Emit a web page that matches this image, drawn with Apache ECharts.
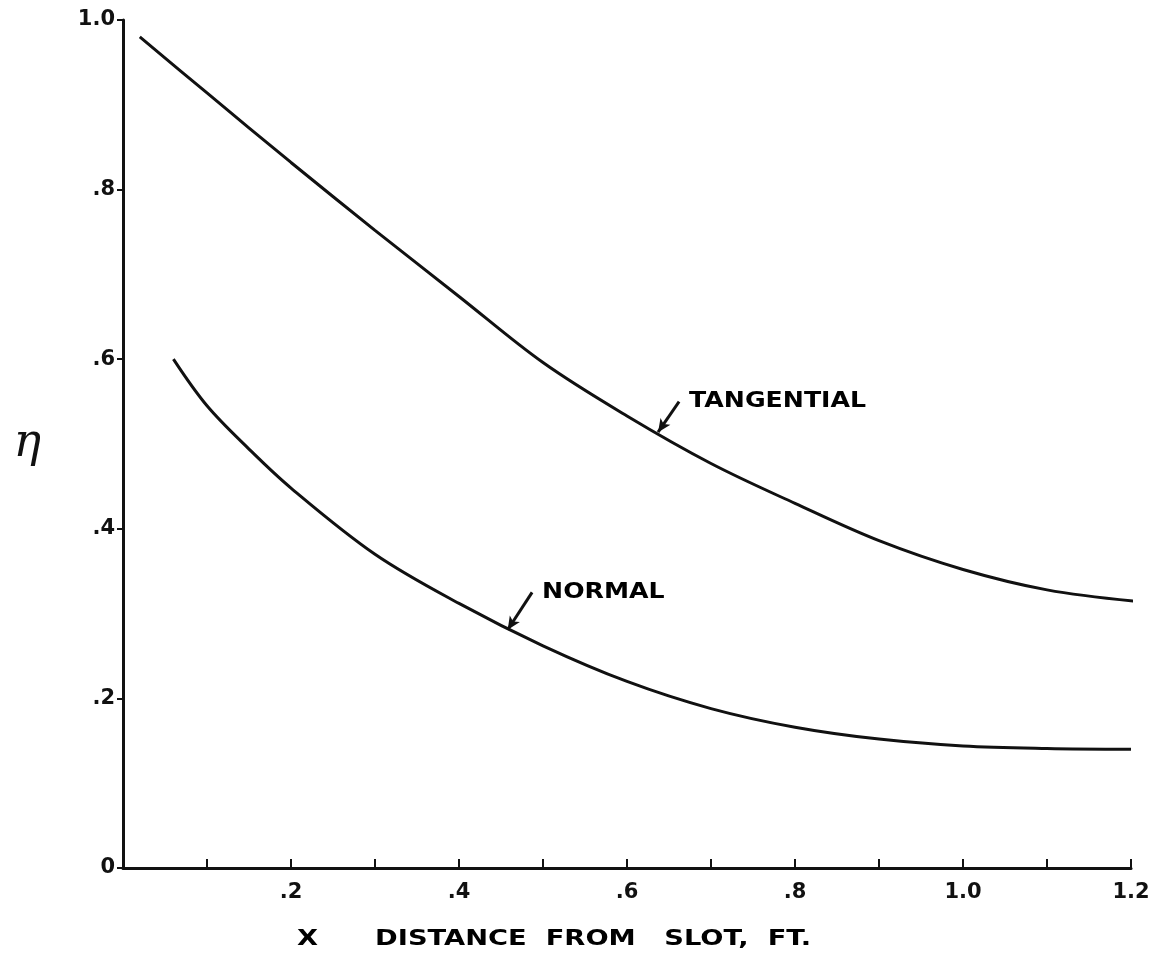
<!DOCTYPE html>
<html>
<head>
<meta charset="utf-8">
<script src="https://cdn.jsdelivr.net/npm/echarts@6/dist/echarts.min.js"></script>
<style>
html,body{margin:0;padding:0;background:#fff;}
#chart{width:1156px;height:962px;}
</style>
</head>
<body>
<div id="chart"></div>
<script>
// Tangential slot curve
const tangX = [0.02, 0.1, 0.2, 0.3, 0.4, 0.5, 0.6, 0.7, 0.8, 0.9, 1.0, 1.1, 1.21];
const tangY = [0.98, 0.914, 0.832, 0.752, 0.674, 0.596, 0.533, 0.477, 0.430, 0.386, 0.352, 0.328, 0.314];
// Normal slot curve
const normX = [0.06, 0.1, 0.15, 0.2, 0.3, 0.4, 0.5, 0.6, 0.7, 0.8, 0.9, 1.0, 1.1, 1.2];
const normY = [0.60, 0.545, 0.494, 0.448, 0.370, 0.312, 0.262, 0.220, 0.188, 0.166, 0.152, 0.144, 0.141, 0.140];
// Tick labels
const xTickLabels = {"0.2": ".2", "0.4": ".4", "0.6": ".6", "0.8": ".8", "1.0": "1.0", "1.2": "1.2"};
const yTickLabels = {"0.0": "0", "0.2": ".2", "0.4": ".4", "0.6": ".6", "0.8": ".8", "1.0": "1.0"};
// Annotations: label text, arrow start [x, y], arrow tip [x, y]
const annoNames = ["TANGENTIAL", "NORMAL"];
const annoStart = [[0.662, 0.550], [0.487, 0.325]];
const annoTip = [[0.637, 0.514], [0.458, 0.281]];
const xTitle = "X      DISTANCE  FROM   SLOT,  FT.";
const yTitle = "η";

const ink = '#111';
const font = 'DejaVu Sans';
const chart = echarts.init(document.getElementById('chart'), null, {renderer: 'canvas'});

const zip = (xs, ys) => xs.map((x, i) => [x, ys[i]]);

const arrowLine = i => ({
  silent: true, symbol: ['none', 'arrow'], symbolSize: [9, 13],
  lineStyle: {color: ink, width: 3, type: 'solid'},
  itemStyle: {color: ink},
  label: {show: false},
  data: [[{coord: annoStart[i]}, {coord: annoTip[i]}]]
});

chart.setOption({
  backgroundColor: '#fff',
  animation: false,
  grid: {left: 123, right: 25, top: 20, bottom: 94, containLabel: false},
  xAxis: {
    type: 'value', min: 0, max: 1.2, interval: 0.1,
    axisLine: {show: true, onZero: false, lineStyle: {color: ink, width: 3}},
    axisTick: {show: true, inside: true, length: 9, lineStyle: {color: ink, width: 2}},
    splitLine: {show: false},
    axisLabel: {
      margin: 14,
      fontFamily: font, fontWeight: 'bold', fontSize: 21, color: ink,
      formatter: v => xTickLabels[v.toFixed(1)] || ''
    }
  },
  yAxis: {
    type: 'value', min: 0, max: 1.0, interval: 0.2,
    name: yTitle, nameLocation: 'middle', nameRotate: 0, nameGap: 82,
    nameTextStyle: {fontFamily: 'DejaVu Serif', fontStyle: 'italic', fontSize: 46, color: ink},
    axisLine: {show: true, onZero: false, lineStyle: {color: ink, width: 3}},
    axisTick: {show: true, inside: false, length: 6, lineStyle: {color: ink, width: 2}},
    splitLine: {show: false},
    axisLabel: {
      margin: 8,
      fontFamily: font, fontWeight: 'bold', fontSize: 21, color: ink,
      formatter: v => yTickLabels[v.toFixed(1)] || ''
    }
  },
  series: [
    {
      name: 'TANGENTIAL', type: 'line', smooth: 0.35, showSymbol: false,
      data: zip(tangX, tangY),
      lineStyle: {color: ink, width: 3},
      markLine: arrowLine(0)
    },
    {
      name: 'NORMAL', type: 'line', smooth: 0.35, showSymbol: false,
      data: zip(normX, normY),
      lineStyle: {color: ink, width: 3},
      markLine: arrowLine(1)
    }
  ]
});

// Text labels placed through the chart's own coordinate conversion
const texts = annoNames.map((n, i) => {
  const p = chart.convertToPixel({gridIndex: 0}, annoStart[i]);
  return {
    type: 'text', x: p[0] + 10, y: p[1], scaleX: 1.2, silent: true,
    style: {text: n, fill: '#000', fontFamily: font, fontWeight: 'bold', fontSize: 21,
            textAlign: 'left', textVerticalAlign: 'middle'}
  };
});
texts.push({
  type: 'text', x: 297, y: 940, scaleX: 1.3, silent: true,
  style: {text: xTitle, fill: '#000', fontFamily: font, fontWeight: 'bold', fontSize: 21,
          textAlign: 'left', textVerticalAlign: 'middle'}
});
chart.setOption({graphic: texts});
</script>
</body>
</html>
